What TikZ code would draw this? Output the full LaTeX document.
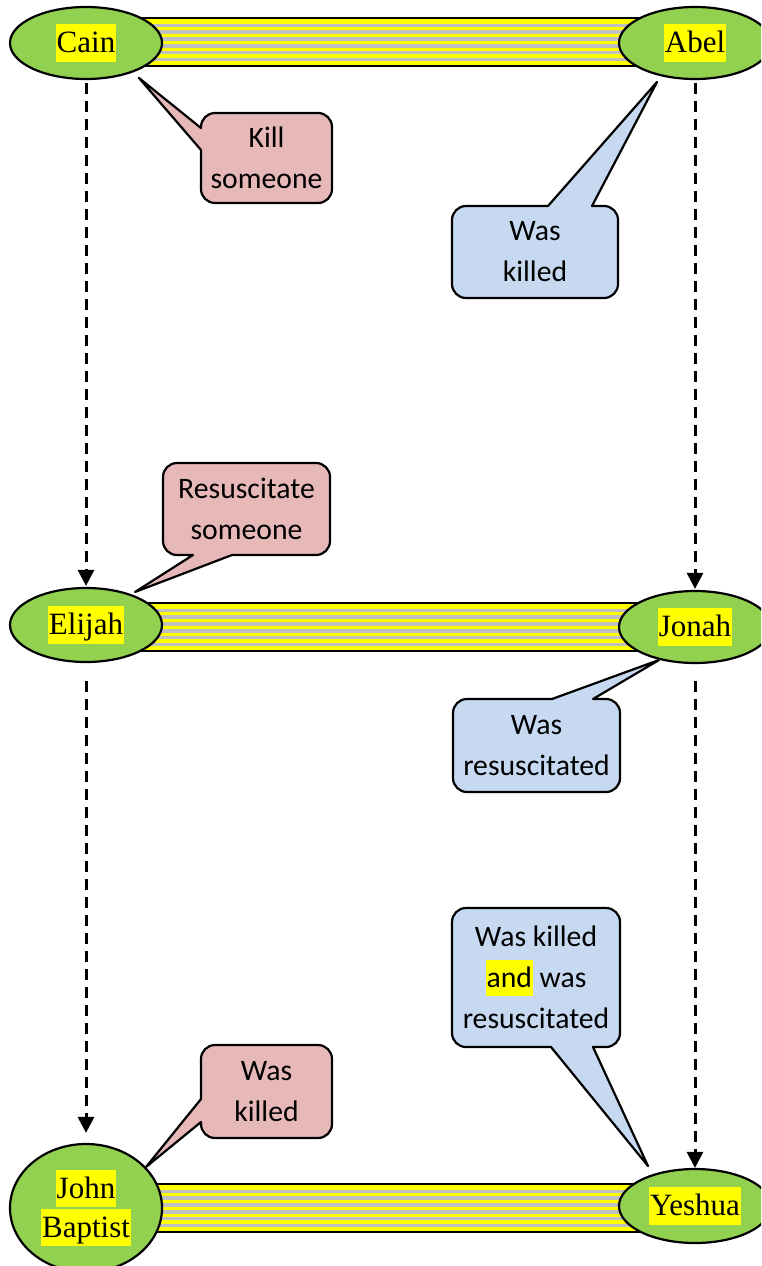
\documentclass[tikz,border=0pt]{standalone}
\usepackage{fontspec}
\setmainfont{Liberation Serif}
\newfontfamily\callfont{Carlito}
\usetikzlibrary{shapes.geometric,arrows.meta,calc}
\definecolor{elgreen}{HTML}{92D050}
\definecolor{callpink}{HTML}{E6B8B7}
\definecolor{callblue}{HTML}{C6D9F1}
\definecolor{stripegray}{HTML}{C0C0C0}
\definecolor{hlyellow}{HTML}{FFFF00}
\newcommand\hlname[1]{{\setlength\fboxsep{0pt}\colorbox{hlyellow}{\kern1pt\rule[-0.28em]{0pt}{1.2em}#1\kern1pt}}}
\begin{document}
\begin{tikzpicture}[x=1pt,y=-1pt,
  person/.style={ellipse, draw=black, line width=2.2pt, fill=elgreen,
    minimum width=152pt, minimum height=72pt, inner sep=0pt,
    font=\fontsize{31}{39}\selectfont, align=center},
  bubble/.style={draw=black, line width=2.2pt, line join=round},
  bubbletext/.style={font=\callfont\fontsize{29.7}{41}\selectfont, align=center, inner sep=0pt},
  descend/.style={line width=3pt, dash pattern=on 11pt off 7pt,
    -{Triangle[width=16pt,length=16pt]}},
]
\clip (0,0) rectangle (761,1266);
\fill[white] (0,0) rectangle (761,1266);

% coordinates of the people
\coordinate (pcain) at (86,42);
\coordinate (pabel) at (695,42);
\coordinate (pelijah) at (86,627);
\coordinate (pjonah) at (695,627);
\coordinate (pjohn) at (86,1208);
\coordinate (pyeshua) at (695,1208);

% striped bands
\foreach \a/\b in {pcain/pabel, pelijah/pjonah, pjohn/pyeshua}{
  \fill[hlyellow] ($(\a)+(0,-24)$) rectangle ($(\b)+(0,24)$);
  \foreach \k in {0,...,5}{
    \fill[stripegray] ($(\a)+(0,-24+5.5+\k*6.9)$) rectangle ($(\b)+(0,-24+5.5+\k*6.9+3.3)$);
  }
  \draw[line width=2.2pt] ($(\a)+(0,-24)$) -- ($(\b)+(0,-24)$);
  \draw[line width=2.2pt] ($(\a)+(0,24)$) -- ($(\b)+(0,24)$);
}

% people
\node[person] (cain) at (86,43) {\hlname{Cain}};
\node[person] (abel) at (695,43) {\hlname{Abel}};
\node[person, minimum height=74pt] (elijah) at (86,625) {\hlname{Elijah}};
\node[person] (jonah) at (695,627) {\hlname{Jonah}};
\node[person, minimum height=128pt] (john) at (86,1208) {\hlname{John}\\\hlname{Baptist}};
\node[person, minimum height=74pt] (yeshua) at (695,1206) {\hlname{Yeshua}};

% dashed arrows
\draw[descend, shorten <=3pt, shorten >=1pt] (cain.south) -- (elijah.north);
\draw[descend, shorten <=3pt, shorten >=1pt] (abel.south) -- (jonah.north);
\draw[descend, shorten <=18pt, shorten >=10pt] (elijah.south) -- (john.north);
\draw[descend, shorten <=17pt, shorten >=0pt] (jonah.south) -- (yeshua.north);

% callout tips
\coordinate (tkill) at (139,78);
\coordinate (tabel) at (657,82);
\coordinate (tres) at (135,592);
\coordinate (tjonah) at (659,660);
\coordinate (tyeshua) at (648,1166);
\coordinate (tjohn) at (146,1167);

% callouts
\path[bubble, fill=callpink] (201,150) [rounded corners=14pt] -- (201,203) -- (332,203) -- (332,113) -- (201,113) [sharp corners] -- (201,128) -- (tkill) -- cycle;
\node[bubbletext] (kill) at (266.5,158) {Kill\\someone};

\path[bubble, fill=callblue] (592,206) [rounded corners=14pt] -- (618,206) -- (618,298) -- (452,298) -- (452,206) [sharp corners] -- (548,206) -- (tabel) -- cycle;
\node[bubbletext] (wk1) at (535,252) {Was\\killed};

\path[bubble, fill=callpink] (232,555) [rounded corners=14pt] -- (330,555) -- (330,463) -- (163,463) -- (163,555) [sharp corners] -- (193,555) -- (tres) -- cycle;
\node[bubbletext] (resus) at (246.5,509) {Resuscitate\\someone};

\path[bubble, fill=callblue] (593,699) [rounded corners=14pt] -- (620,699) -- (620,792) -- (453,792) -- (453,699) [sharp corners] -- (552,699) -- (tjonah) -- cycle;
\node[bubbletext] (wres) at (536.5,745.5) {Was\\resuscitated};

\path[bubble, fill=callblue] (551,1047) [rounded corners=14pt] -- (452,1047) -- (452,908) -- (620,908) -- (620,1047) [sharp corners] -- (593,1047) -- (tyeshua) -- cycle;
\node[bubbletext] (wboth) at (536,977.5) {Was killed\\\hlname{and} was\\resuscitated};

\path[bubble, fill=callpink] (201,1099) [rounded corners=14pt] -- (201,1045) -- (332,1045) -- (332,1138) -- (201,1138) [sharp corners] -- (201,1122) -- (tjohn) -- cycle;
\node[bubbletext] (wk2) at (266.5,1091.5) {Was\\killed};
\end{tikzpicture}
\end{document}
